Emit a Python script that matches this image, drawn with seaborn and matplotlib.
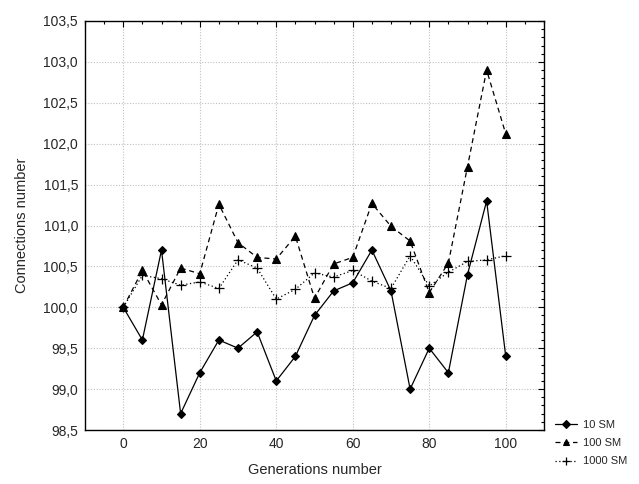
import matplotlib
matplotlib.use("Agg")
import matplotlib.pyplot as plt
import seaborn as sns
import pandas as pd
import numpy as np
from matplotlib.ticker import MultipleLocator, FuncFormatter

generations = [0, 5, 10, 15, 20, 25, 30, 35, 40, 45, 50, 55, 60, 65, 70, 75, 80, 85, 90, 95, 100]
sm10 = [100.0, 99.6, 100.7, 98.7, 99.2, 99.6, 99.5, 99.7, 99.1, 99.4, 99.9, 100.2, 100.3, 100.7,
        100.2, 99.0, 99.5, 99.2, 100.4, 101.3, 99.4]
sm100 = [100.0, 100.45, 100.03, 100.48, 100.41, 101.26, 100.79, 100.61, 100.59, 100.87, 100.11,
         100.53, 100.61, 101.27, 100.99, 100.81, 100.18, 100.54, 101.72, 102.9, 102.12]
sm1000 = [100.0, 100.39, 100.35, 100.27, 100.31, 100.23, 100.58, 100.48, 100.10, 100.22, 100.42,
          100.37, 100.45, 100.32, 100.23, 100.63, 100.26, 100.43, 100.56, 100.58, 100.63]
series_names = ["10 SM", "100 SM", "1000 SM"]

sns.set_style("white")
plt.rcParams["font.family"] = ["Liberation Sans", "DejaVu Sans"]

fig = plt.figure(figsize=(6.39, 4.84), dpi=100)
ax = fig.add_axes([85/639, 1-430/484, (544-85)/639, (430-21)/484])

styles = [
    dict(marker="D", markersize=4.5, linestyle="-", markeredgewidth=0.8),
    dict(marker="^", markersize=6, linestyle=(0, (4, 3)), markeredgewidth=0.8),
    dict(marker="+", markersize=7, linestyle=(0, (1, 2)), markeredgewidth=0.9),
]
for name, vals, st in zip(series_names, [sm10, sm100, sm1000], styles):
    sns.lineplot(x=generations, y=vals, color="black", linewidth=0.9,
                 markeredgecolor="black", label=name, ax=ax, **st)

ax.set_xlim(-10, 110)
ax.set_ylim(98.5, 103.5)
ax.xaxis.set_major_locator(MultipleLocator(20))
ax.xaxis.set_minor_locator(MultipleLocator(5))
ax.yaxis.set_major_locator(MultipleLocator(0.5))
ax.yaxis.set_minor_locator(MultipleLocator(0.1))
ax.yaxis.set_major_formatter(FuncFormatter(lambda v, p: f"{v:.1f}".replace(".", ",")))
ax.xaxis.set_major_formatter(FuncFormatter(lambda v, p: f"{v:.0f}"))
ax.grid(True, which="major", color="#c0c0c0", linestyle=(0, (1, 1.5)), linewidth=0.8)
ax.tick_params(which="both", direction="in", top=True, right=True, color="black",
               labelsize=10)
ax.tick_params(which="major", length=4, width=0.8, pad=5)
ax.tick_params(which="minor", length=2.5, width=0.8)
for s in ax.spines.values():
    s.set_color("black")
    s.set_linewidth(1.0)
ax.set_xlabel("Generations number", fontsize=10.5, labelpad=9)
ax.set_ylabel("Connections number", fontsize=10.5, labelpad=10)

leg = ax.legend(loc="lower left", bbox_to_anchor=(549/639, 1-472/484), bbox_transform=fig.transFigure,
                frameon=False, fontsize=8, handlelength=2.0, handletextpad=0.6,
                labelspacing=0.75, borderpad=0, markerscale=0.8)

fig.savefig("out.png", dpi=100)
